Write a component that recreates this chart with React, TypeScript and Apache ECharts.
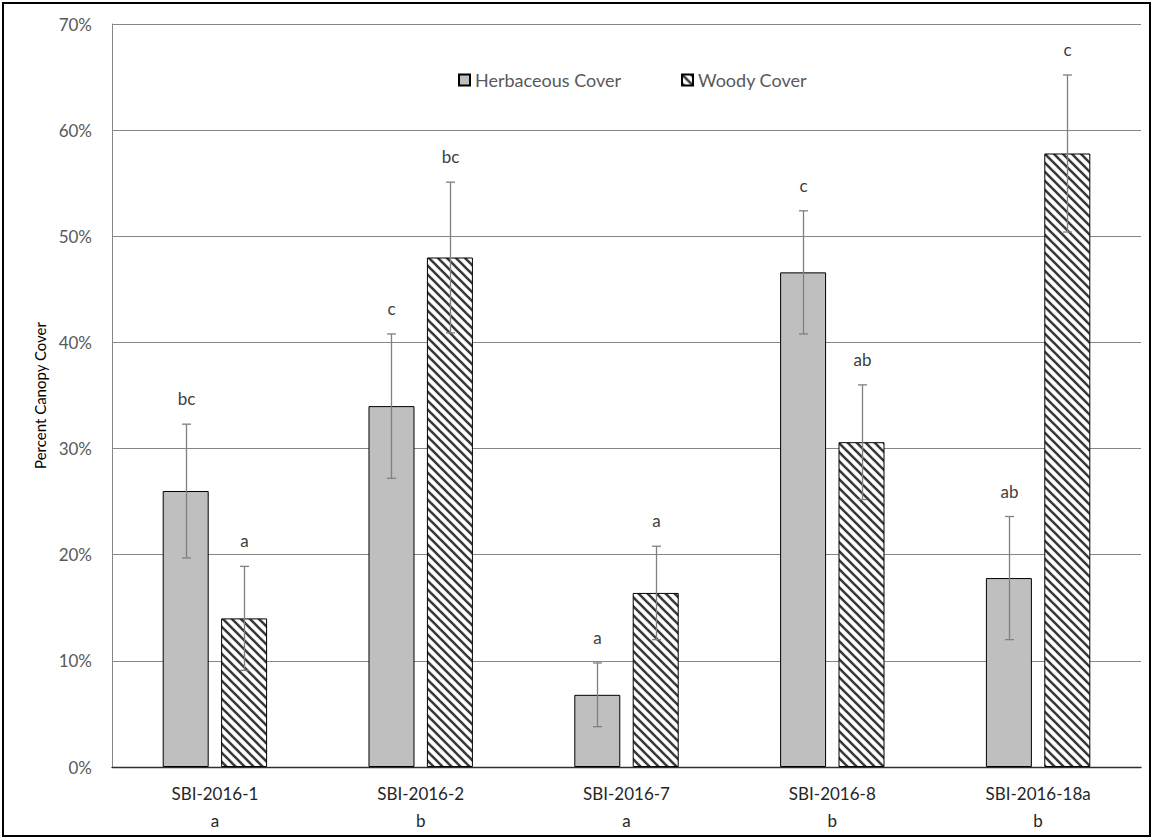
import React, { useEffect, useRef } from "react";
import * as echarts from "echarts";

const categories = ["SBI-2016-1", "SBI-2016-2", "SBI-2016-7", "SBI-2016-8", "SBI-2016-18a"];
const siteLetters = ["a", "b", "a", "b", "b"];
const herbValues = [26.0, 34.0, 6.8, 46.6, 17.8];
const woodyValues = [14.0, 48.0, 16.4, 30.6, 57.8];
const herbErrors = [6.3, 6.8, 3.0, 5.8, 5.8];
const woodyErrors = [4.9, 7.1, 4.4, 5.4, 7.4];
const herbLetters = ["bc", "c", "a", "c", "ab"];
const woodyLetters = ["a", "bc", "a", "ab", "c"];

const FONT = "Lato, 'Open Sans', sans-serif";
const BAR_RATIO = 0.2235;
const GAP_RATIO = 0.27;

function makeHatch(): HTMLCanvasElement {
  const s = 9;
  const c = document.createElement("canvas");
  c.width = s;
  c.height = s;
  const ctx = c.getContext("2d")!;
  ctx.fillStyle = "#ffffff";
  ctx.fillRect(0, 0, s, s);
  ctx.strokeStyle = "#3a3a3a";
  ctx.lineWidth = 2.6;
  for (const o of [-s, 0, s]) {
    ctx.beginPath();
    ctx.moveTo(o - 1, -1);
    ctx.lineTo(o + s + 1, s + 1);
    ctx.stroke();
  }
  return c;
}

function errorSeries(values: number[], errors: number[], letters: string[], side: number) {
  return {
    type: "custom",
    z: 10,
    silent: true,
    data: values.map((v, i) => [i, v, errors[i]]),
    renderItem: (params: any, api: any) => {
      const idx = api.value(0);
      const val = api.value(1);
      const err = api.value(2);
      const band = api.size([1, 0])[0];
      const barW = band * BAR_RATIO;
      const offset = side * (barW * (1 + GAP_RATIO)) / 2;
      const top = api.coord([idx, val + err]);
      const bot = api.coord([idx, val - err]);
      const x = Math.round(top[0] + offset) + 0.5;
      const cap = 4.5;
      const st = { stroke: "#808080", lineWidth: 1.3 };
      return {
        type: "group",
        children: [
          { type: "line", shape: { x1: x, y1: top[1], x2: x, y2: bot[1] }, style: st },
          { type: "line", shape: { x1: x - cap, y1: top[1], x2: x + cap, y2: top[1] }, style: st },
          { type: "line", shape: { x1: x - cap, y1: bot[1], x2: x + cap, y2: bot[1] }, style: st },
          {
            type: "text",
            x: x,
            y: top[1] - 17,
            style: {
              text: letters[params.dataIndex],
              fill: "#404040",
              font: `17px ${FONT}`,
              align: "center",
              verticalAlign: "bottom",
            },
          },
        ],
      };
    },
  };
}

export default function App() {
  const ref = useRef<HTMLDivElement>(null);
  useEffect(() => {
    document.body.style.margin = "0";
    const chart = echarts.init(ref.current!, null, { renderer: "svg" });
    const hatch = makeHatch();
    chart.setOption({
      animation: false,
      backgroundColor: "#ffffff",
      grid: { left: 112, top: 24, right: 13, bottom: 73, containLabel: false },
      legend: {
        data: ["Herbaceous Cover", "Woody Cover"],
        icon: "rect",
        left: 453,
        top: 66,
        itemWidth: 11,
        itemHeight: 11,
        itemGap: 60,
        textStyle: { fontFamily: FONT, fontSize: 18, color: "#595959" },
      },
      xAxis: {
        type: "category",
        data: categories.map((c, i) => `${c}\n${siteLetters[i]}`),
        axisLine: { lineStyle: { color: "#303030", width: 1.3 } },
        axisTick: { show: false },
        axisLabel: {
          fontFamily: FONT,
          fontSize: 17,
          color: "#262626",
          lineHeight: 27,
          margin: 13,
        },
      },
      yAxis: {
        type: "value",
        min: 0,
        max: 70,
        interval: 10,
        name: "Percent Canopy Cover",
        nameLocation: "middle",
        nameGap: 64,
        nameTextStyle: { fontFamily: FONT, fontSize: 15, color: "#000000" },
        axisLine: { show: true, lineStyle: { color: "#868686", width: 1 } },
        axisTick: { show: false },
        axisLabel: {
          formatter: "{value}%",
          fontFamily: FONT,
          fontSize: 17,
          color: "#595959",
          margin: 20,
        },
        splitLine: { lineStyle: { color: "#868686", width: 1 } },
      },
      series: [
        {
          name: "Herbaceous Cover",
          type: "bar",
          data: herbValues,
          barWidth: `${BAR_RATIO * 100}%`,
          barGap: `${GAP_RATIO * 100}%`,
          itemStyle: { color: "#bfbfbf", borderColor: "#000000", borderWidth: 1 },
        },
        {
          name: "Woody Cover",
          type: "bar",
          data: woodyValues,
          barWidth: `${BAR_RATIO * 100}%`,
          barGap: `${GAP_RATIO * 100}%`,
          itemStyle: {
            color: { image: hatch, repeat: "repeat", imageWidth: 9, imageHeight: 9 },
            borderColor: "#000000",
            borderWidth: 1,
          },
        },
        errorSeries(herbValues, herbErrors, herbLetters, -1),
        errorSeries(woodyValues, woodyErrors, woodyLetters, 1),
      ],
      graphic: [
        {
          type: "rect",
          shape: { x: 3, y: 3, width: 1147, height: 833 },
          style: { fill: "none", stroke: "#000000", lineWidth: 2 },
          silent: true,
        },
      ],
    });
    return () => chart.dispose();
  }, []);
  return <div ref={ref} style={{ width: 1154, height: 840 }} />;
}
